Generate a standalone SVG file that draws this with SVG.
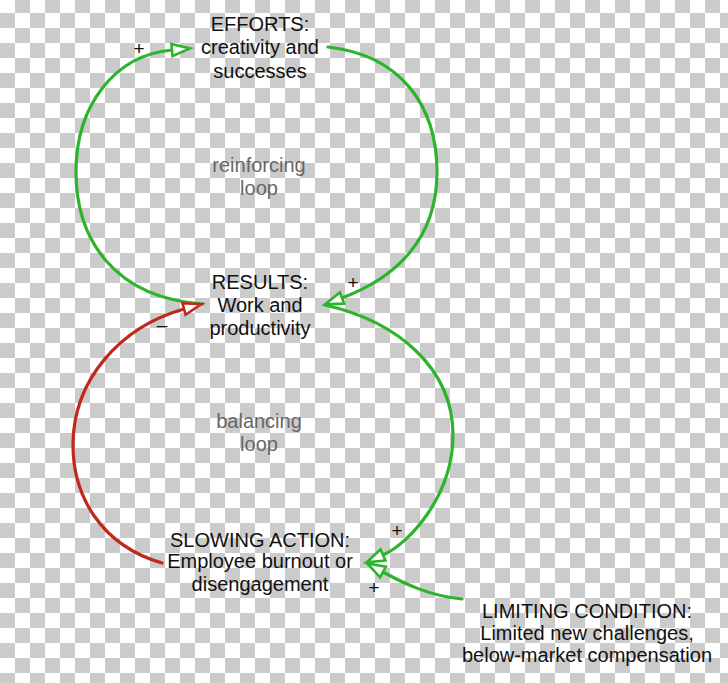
<svg xmlns="http://www.w3.org/2000/svg" width="728" height="683" viewBox="0 0 728 683">
  <defs>
    <pattern id="checker" x="0" y="-2" width="30" height="30" patternUnits="userSpaceOnUse">
      <rect width="30" height="30" fill="#ffffff"/>
      <rect x="15" y="0" width="15" height="15" fill="#cbcbcb"/>
      <rect x="0" y="15" width="15" height="15" fill="#cbcbcb"/>
    </pattern>
    <marker id="arrowG" markerUnits="userSpaceOnUse" markerWidth="24" markerHeight="18" viewBox="-2 -8 24 16" refX="0" refY="0" orient="auto" overflow="visible">
      <path d="M0,-6 L18,0 L0,6 Z" fill="#ffffff" stroke="#2cb52c" stroke-width="2.6" stroke-linejoin="miter"/>
    </marker>
    <marker id="arrowR" markerUnits="userSpaceOnUse" markerWidth="24" markerHeight="18" viewBox="-2 -8 24 16" refX="0" refY="0" orient="auto" overflow="visible">
      <path d="M0,-6 L18,0 L0,6 Z" fill="#ffffff" stroke="#c1281c" stroke-width="2.6" stroke-linejoin="miter"/>
    </marker>
  </defs>
  <style>
    .t { font-family: "Liberation Sans", Arial, Helvetica, sans-serif; font-size: 20px; fill: #111111; text-anchor: middle; }
    .g { font-family: "Liberation Sans", Arial, Helvetica, sans-serif; font-size: 20px; fill: #676767; text-anchor: middle; }
    .s { font-family: "Liberation Sans", Arial, Helvetica, sans-serif; font-size: 19px; fill: #111111; text-anchor: middle; }
    .green { fill: none; stroke: #2cb52c; stroke-width: 3.2; stroke-linecap: round; marker-end: url(#arrowG); }
    .red { fill: none; stroke: #c1281c; stroke-width: 3.2; stroke-linecap: round; marker-end: url(#arrowR); }
  </style>
  <rect x="0" y="0" width="728" height="683" fill="url(#checker)"/>

  <g id="connectors">
    <path class="green" d="M203,304 C115,298 76,240 76,172 C76,105 115,55 172,50"/>
    <path class="green" d="M328,47 C400,55 437,105 437,172 C437,240 395,278 342,298"/>
    <path class="green" d="M325,305 C400,322 453,370 453,435 C453,495 410,543 383,555"/>
    <path class="red" d="M162,563 C100,545 73,495 73,445 C73,380 120,327 184,309"/>
    <path class="green" d="M462,599 C430,596 405,584 383,572"/>
  </g>

  <g id="polarity">
    <text class="s" x="139" y="54.5">+</text>
    <text class="s" x="353" y="288.5">+</text>
    <text class="s" x="162" y="330.5">–</text>
    <text class="s" x="397" y="536.5">+</text>
    <text class="s" x="374" y="593.5">+</text>
  </g>

  <g id="efforts">
    <text class="t" x="260" y="31">EFFORTS:</text>
    <text class="t" x="260" y="54">creativity and</text>
    <text class="t" x="260" y="78">successes</text>
  </g>
  <g id="reinforcing-loop">
    <text class="g" x="259" y="172">reinforcing</text>
    <text class="g" x="259" y="195">loop</text>
  </g>
  <g id="results">
    <text class="t" x="260" y="289">RESULTS:</text>
    <text class="t" x="260" y="312">Work and</text>
    <text class="t" x="260" y="335">productivity</text>
  </g>
  <g id="balancing-loop">
    <text class="g" x="259" y="428">balancing</text>
    <text class="g" x="259" y="451">loop</text>
  </g>
  <g id="slowing-action">
    <text class="t" x="260" y="547">SLOWING ACTION:</text>
    <text class="t" x="260" y="568">Employee burnout or</text>
    <text class="t" x="260" y="591">disengagement</text>
  </g>
  <g id="limiting-condition">
    <text class="t" x="587" y="618">LIMITING CONDITION:</text>
    <text class="t" x="587" y="640">Limited new challenges,</text>
    <text class="t" x="587" y="662">below-market compensation</text>
  </g>
</svg>
